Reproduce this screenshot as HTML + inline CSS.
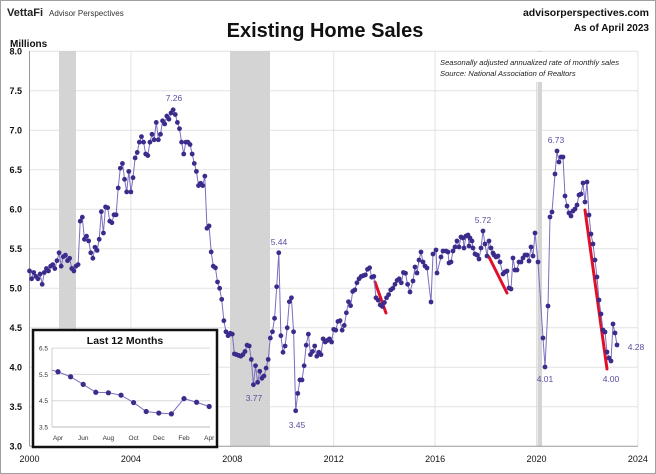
<!DOCTYPE html>
<html><head><meta charset="utf-8"><style>
html,body{margin:0;padding:0;background:#fff}
svg{display:block;font-family:"Liberation Sans",sans-serif}
</style></head><body>
<svg id="s" width="656" height="474" viewBox="0 0 656 474" xmlns="http://www.w3.org/2000/svg">
<rect x="0.5" y="0.5" width="655" height="473" fill="#fff" stroke="#a0a0a0"/>
<text x="7" y="16" font-size="11" font-weight="bold" fill="#222">VettaFi</text>
<text x="49" y="16" font-size="8" fill="#333">Advisor Perspectives</text>
<text x="325" y="37" font-size="20" font-weight="bold" text-anchor="middle" fill="#111">Existing Home Sales</text>
<text x="649" y="16" font-size="10.5" font-weight="bold" text-anchor="end" fill="#111">advisorperspectives.com</text>
<text x="649" y="31" font-size="10" font-weight="bold" text-anchor="end" fill="#111">As of April 2023</text>
<text x="10" y="47" font-size="10" font-weight="bold" fill="#111">Millions</text>
<g id="grid"></g>
<rect x="59" y="51" width="17" height="395" fill="#d4d4d4"/>
<rect x="230" y="51" width="40" height="395" fill="#d4d4d4"/>
<rect x="537.5" y="51" width="4.5" height="395" fill="#d4d4d4"/>
<rect x="436" y="52" width="200" height="30" fill="#fff"/>
<text x="440" y="65" font-size="7.6" font-style="italic" fill="#222">Seasonally adjusted annualized rate of monthly sales</text>
<text x="440" y="76" font-size="7.6" font-style="italic" fill="#222">Source: National Association of Realtors</text>
<line x1="29.5" y1="51" x2="29.5" y2="446" stroke="#999"/>
<line x1="29.5" y1="446.3" x2="638" y2="446.3" stroke="#999"/>
<g id="red" stroke="#e0102a" stroke-width="3" stroke-linecap="round">
<line x1="375" y1="282" x2="386" y2="313"/>
<line x1="489" y1="257" x2="507" y2="293"/>
<line x1="585" y1="210" x2="607" y2="369"/>
</g>
<g id="series"></g>
<g font-size="8.5" fill="#5a4ea0" text-anchor="middle">
<text x="174" y="101">7.26</text>
<text x="279" y="245">5.44</text>
<text x="254" y="401">3.77</text>
<text x="297" y="428">3.45</text>
<text x="483" y="223">5.72</text>
<text x="556" y="143">6.73</text>
<text x="545" y="382">4.01</text>
<text x="611" y="382">4.00</text>
<text x="636" y="350">4.28</text>
</g>
<g id="inset">
<rect x="33" y="330" width="184" height="117" fill="#fff" stroke="#111" stroke-width="2.5"/>
<text x="125" y="344" font-size="10.5" font-weight="bold" text-anchor="middle" fill="#111">Last 12 Months</text>
</g>
</svg>
<script>
const NS="http://www.w3.org/2000/svg";
function el(p,t,a){const e=document.createElementNS(NS,t);for(const k in a)e.setAttribute(k,a[k]);p.appendChild(e);return e;}
const s=document.getElementById('s');
const grid=document.getElementById('grid');
const Y=v=>446.3-(v-3)*79;
const X0=29.5,PY=25.35;
for(let v=3;v<=8.001;v+=0.5){const y=Y(v);
 if(v>3.01) el(grid,'line',{x1:29.5,x2:638,y1:y,y2:y,stroke:'#e2e2e2'});
 const t=el(grid,'text',{x:22,y:y+3,'font-size':9,'font-weight':'bold','text-anchor':'end',fill:'#111'});t.textContent=v.toFixed(1);}
for(let yr=2000;yr<=2024;yr+=4){const x=X0+(yr-2000)*PY;
 if(yr>2000) el(grid,'line',{x1:x,x2:x,y1:51,y2:446,stroke:'#e2e2e2'});
 const t=el(grid,'text',{x:x,y:462,'font-size':9,'text-anchor':'middle',fill:'#111'});t.textContent=yr;}
const vals=[
5.22,5.12,5.20,5.15,5.12,5.18,5.05,5.20,5.25,5.22,5.28,5.30,
5.25,5.35,5.45,5.28,5.40,5.42,5.35,5.38,5.25,5.22,5.28,5.30,
5.85,5.90,5.62,5.66,5.60,5.45,5.38,5.52,5.48,5.62,5.97,5.70,
6.03,6.02,5.85,5.83,5.93,5.93,6.27,6.52,6.58,6.38,6.22,6.48,
6.22,6.40,6.65,6.72,6.85,6.92,6.85,6.70,6.68,6.85,6.95,6.88,
7.10,6.88,6.95,7.12,7.08,7.18,7.14,7.22,7.26,7.20,7.10,7.02,
6.85,6.70,6.85,6.85,6.82,6.70,6.58,6.48,6.30,6.33,6.30,6.42,
5.76,5.79,5.46,5.28,5.26,5.08,5.00,4.86,4.59,4.45,4.40,4.43,
4.42,4.17,4.16,4.15,4.14,4.16,4.20,4.28,4.27,4.10,3.78,4.02,
3.81,3.95,3.86,3.89,3.99,4.10,4.37,4.45,4.62,5.02,5.45,4.40,
4.19,4.27,4.50,4.83,4.88,4.45,3.45,3.67,3.84,3.84,4.02,4.28,
4.42,4.16,4.20,4.27,4.14,4.19,4.16,4.36,4.32,4.34,4.36,4.32,
4.48,4.47,4.58,4.59,4.47,4.53,4.69,4.83,4.78,4.96,4.98,5.07,
5.12,5.15,5.16,5.17,5.24,5.26,5.14,5.15,4.88,4.85,4.79,4.77,
4.82,4.88,4.92,4.98,5.00,5.05,5.10,5.12,5.07,5.20,5.19,5.05];
const pts=vals.map((v,i)=>[X0+i*PY/12,Y(v)]);
const tail=[[410,292],[413,281],[415,267],[417,273],[419,260],[421,252],[423,262],[425,266],[427,268],[431,302],[433,254],[436,250],[437,273],[441,257],[443,251],[446,251],[448,252],[449,263],[451,262],[453,251],[455,247],[457,241],[459,247],[461,237],[463,238],[464,248],[466,236],[468,235],[469,246],[470,238],[472,241],[473,248],[475,254],[477,255],[479,259],[481,248],[483,231],[485,244],[487,256],[489,241],[491,248],[493,253],[494,255],[496,257],[498,256],[500,262],[503,274],[505,272],[507,271],[509,288],[511,289],[513,258],[515,270],[517,270],[519,262],[521,262],[523,258],[525,255],[527,255],[529,261],[531,247],[533,256],[535,233],[538,262],[543,338],[545,367],[548,306],[550,217],[552,212],[555,174],[557,151],[559,162],[561,157],[563,157],[565,196],[567,206],[569,213],[571,216],[573,211],[575,209],[577,205],[579,195],[581,194],[583,183],[585,202],[587,182],[589,215],[591,234],[593,244],[595,260],[597,277],[599,300],[601,314],[603,330],[605,332],[607,352],[609,358],[611,361],[613,324],[615,333],[617,345]];
const all=pts.concat(tail);
const g=document.getElementById('series');
el(g,'polyline',{points:all.map(p=>p[0].toFixed(1)+','+p[1].toFixed(1)).join(' '),fill:'none',stroke:'#7a6fbf','stroke-width':1});
all.forEach(p=>el(g,'circle',{cx:p[0],cy:p[1],r:2.4,fill:'#3d2b8c'}));
// inset
const ins=document.getElementById('inset');
const iy=v=>427-(v-3.5)*26.3;
[3.5,4.5,5.5,6.5].forEach(v=>{const y=iy(v);
 el(ins,'line',{x1:52,x2:210,y1:y,y2:y,stroke:v==3.5?'#bbb':'#d8d8d8'});
 const t=el(ins,'text',{x:48,y:y+2.5,'font-size':6.5,'text-anchor':'end',fill:'#333'});t.textContent=v.toFixed(1);});
el(ins,'line',{x1:52,x2:52,y1:348,y2:427,stroke:'#ccc'});
const iv=[5.6,5.41,5.12,4.82,4.8,4.71,4.43,4.09,4.03,4.0,4.58,4.44,4.28];
const ip=iv.map((v,i)=>[58+i*12.6,iy(v)]);
el(ins,'polyline',{points:'52,'+iy(5.66)+' '+ip.map(p=>p.join(',')).join(' '),fill:'none',stroke:'#7a6fbf','stroke-width':1});
ip.forEach(p=>el(ins,'circle',{cx:p[0],cy:p[1],r:2.6,fill:'#3d2b8c'}));
['Apr','Jun','Aug','Oct','Dec','Feb','Apr'].forEach((m,i)=>{const t=el(ins,'text',{x:58+i*25.2,y:440,'font-size':6.5,'text-anchor':'middle',fill:'#333'});t.textContent=m;});
</script>
</body></html>
